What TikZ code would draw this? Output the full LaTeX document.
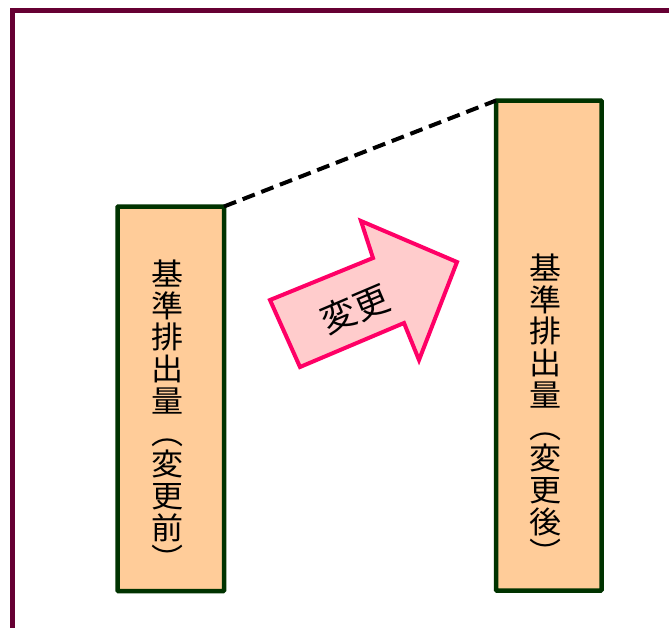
\documentclass[tikz,border=0pt]{standalone}
\usepackage{fontspec}
\newfontfamily\cjk{Noto Sans CJK JP}
\definecolor{framec}{HTML}{660033}
\definecolor{barfill}{HTML}{FFCC99}
\definecolor{barline}{HTML}{003300}
\definecolor{arrfill}{HTML}{FFCCCC}
\definecolor{arrline}{HTML}{FF0066}
\tikzset{
  bar/.style={draw=barline, fill=barfill, line width=4.5pt, rounded corners=0.8pt},
  vch/.style={inner sep=0pt, anchor=base, font=\cjk\fontsize{30.5}{30.5}\selectfont, xscale=1.05},
  arrowshape/.style={draw=arrline, fill=arrfill, line width=4pt, line join=miter},
}
\begin{document}
\begin{tikzpicture}[x=1pt,y=-1pt]
\useasboundingbox (0,0) rectangle (669,627);
% frame
\draw[framec, line width=5pt] (12,640) -- (12,10) -- (680,10);
% bars
\draw[bar] (117.5,206.5) rectangle (224,591);
\draw[bar] (496,100.5) rectangle (601.5,590.5);
\coordinate (ltop) at (224,206.5);
\coordinate (rtop) at (496,100.5);
\draw[black, line width=4pt, dash pattern=on 13pt off 7pt] (ltop) -- (rtop);
% arrow
\draw[arrowshape] (300,367) -- (270,300) -- (373,258) -- (361,221) -- (457,262) -- (419,360) -- (404,323) -- cycle;
\node[inner sep=0pt, rotate=23, font=\cjk\fontsize{35}{35}\selectfont] (chg) at (355,309) {変更};
% vertical labels
\foreach \c [count=\i from 0] in {基,準,排,出,量,︵,変,更,前,︶}{
  \node[vch] (l\i) at (167.5, 274+\i*31.7+11.5) {\c};
}
\foreach \c [count=\i from 0] in {基,準,排,出,量,︵,変,更,後,︶}{
  \node[vch] (r\i) at (545.5, 268+\i*31.7+11.5) {\c};
}
\end{tikzpicture}
\end{document}
